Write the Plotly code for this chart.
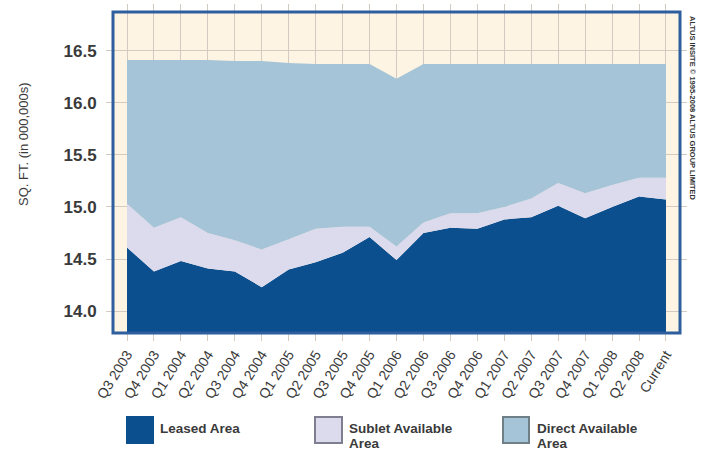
import plotly.graph_objects as go

categories = ["Q3 2003", "Q4 2003", "Q1 2004", "Q2 2004", "Q3 2004", "Q4 2004",
              "Q1 2005", "Q2 2005", "Q3 2005", "Q4 2005", "Q1 2006", "Q2 2006",
              "Q3 2006", "Q4 2006", "Q1 2007", "Q2 2007", "Q3 2007", "Q4 2007",
              "Q1 2008", "Q2 2008", "Current"]

# stacked tops (in 000,000s sq. ft.)
leased = [14.61, 14.38, 14.48, 14.41, 14.38, 14.23, 14.40, 14.47, 14.56, 14.71,
          14.49, 14.75, 14.80, 14.79, 14.88, 14.90, 15.01, 14.89, 15.00, 15.10, 15.07]
leased_plus_sublet = [15.03, 14.80, 14.90, 14.75, 14.68, 14.59, 14.69, 14.79, 14.81, 14.81,
                      14.62, 14.85, 14.94, 14.94, 15.00, 15.08, 15.23, 15.13, 15.21, 15.28, 15.28]
total_inventory = [16.41, 16.41, 16.41, 16.41, 16.40, 16.40, 16.38, 16.37, 16.37, 16.37,
                   16.23, 16.37, 16.37, 16.37, 16.37, 16.37, 16.37, 16.37, 16.37, 16.37, 16.37]

y_ticks = [14.0, 14.5, 15.0, 15.5, 16.0, 16.5]
y_tick_labels = ["14.0", "14.5", "15.0", "15.5", "16.0", "16.5"]

series_names = ["Leased Area", "Sublet Available<br>Area", "Direct Available<br>Area"]

C_LEASED = "#0b4f8e"
C_SUBLET = "#dcdbee"
C_DIRECT = "#a6c4d7"
C_CREAM = "#fdf4e3"
C_GRID = "#d3cbc2"
C_BORDER = "#2f5e9e"
FONT = "Liberation Sans, Arial, sans-serif"

W, H = 709, 452
L, R, T, B = 113, 29, 12, 119
PW, PH = W - L - R, H - T - B


def px(x):
    return (x - L) / PW


def py(y):
    return (H - B - y) / PH


fig = go.Figure()
x_idx = list(range(len(categories)))
fig.add_trace(go.Scatter(x=x_idx, y=leased, mode="lines", line=dict(width=0),
                         fill="tozeroy", fillcolor=C_LEASED, name=series_names[0],
                         hoverinfo="skip"))
fig.add_trace(go.Scatter(x=x_idx, y=leased_plus_sublet, mode="lines", line=dict(width=0),
                         fill="tonexty", fillcolor=C_SUBLET, name=series_names[1],
                         hoverinfo="skip"))
fig.add_trace(go.Scatter(x=x_idx, y=total_inventory, mode="lines", line=dict(width=0),
                         fill="tonexty", fillcolor=C_DIRECT, name=series_names[2],
                         hoverinfo="skip"))

fig.update_layout(
    width=W, height=H,
    margin=dict(l=L, r=R, t=T, b=B, pad=0),
    paper_bgcolor="white",
    plot_bgcolor=C_CREAM,
    showlegend=False,
    font=dict(family=FONT, color="#3a3a3a"),
)

fig.update_xaxes(
    range=[-0.52, 20.52],
    tickmode="array", tickvals=x_idx, ticktext=categories,
    tickangle=-58,
    tickfont=dict(size=14, color="#3a3a3a"),
    showgrid=True, gridcolor=C_GRID, gridwidth=1,
    ticks="outside", ticklen=7, tickcolor=C_GRID, mirror="ticks",
    showline=False, zeroline=False,
)
fig.update_yaxes(
    range=[13.79, 16.87],
    tickmode="array", tickvals=y_ticks,
    ticktext=["<b>%s</b>" % t for t in y_tick_labels],
    tickfont=dict(size=17, color="#3a3a3a"),
    showgrid=True, gridcolor=C_GRID, gridwidth=1,
    ticks="outside", ticklen=6, tickcolor=C_GRID, mirror="ticks",
    ticklabelstandoff=6,
    showline=False, zeroline=False,
)

shapes = [
    dict(type="rect", xref="paper", yref="paper", x0=0, x1=1, y0=0, y1=1,
         line=dict(color=C_BORDER, width=3), layer="above"),
]

legend_items = [
    (127, 153, C_LEASED, C_LEASED, 158, series_names[0]),
    (315, 342, C_SUBLET, "#7e7e90", 347, series_names[1]),
    (503, 529, C_DIRECT, "#6f7f88", 535, series_names[2]),
]
annotations = []
for x0, x1, fc, lc, tx, label in legend_items:
    shapes.append(dict(type="rect", xref="paper", yref="paper",
                       x0=px(x0), x1=px(x1), y0=py(443), y1=py(417),
                       fillcolor=fc, line=dict(color=lc, width=2)))
    for i, line in enumerate(label.split("<br>")):
        annotations.append(dict(xref="paper", yref="paper", x=px(tx), y=py(428 + 15 * i),
                                text="<b>%s</b>" % line, showarrow=False,
                                xanchor="left", yanchor="middle", align="left",
                                font=dict(size=13.5, color="#3a3a3a", family=FONT)))

annotations.append(dict(xref="paper", yref="paper", x=px(23), y=py(144),
                        xanchor="center", yanchor="middle",
                        text="SQ. FT. (in 000,000s)", textangle=-90, showarrow=False,
                        font=dict(size=13, color="#3a3a3a", family=FONT)))
annotations.append(dict(xref="paper", yref="paper", x=px(693), y=py(108),
                        xanchor="center", yanchor="middle",
                        text="<b>ALTUS INSITE © 1995-2008 ALTUS GROUP LIMITED</b>",
                        textangle=90, showarrow=False,
                        font=dict(size=7.5, color="#333333",
                                  family="Liberation Sans Narrow, Arial Narrow, Liberation Sans, sans-serif")))

fig.update_layout(shapes=shapes, annotations=annotations)

fig.write_html("out.html")
